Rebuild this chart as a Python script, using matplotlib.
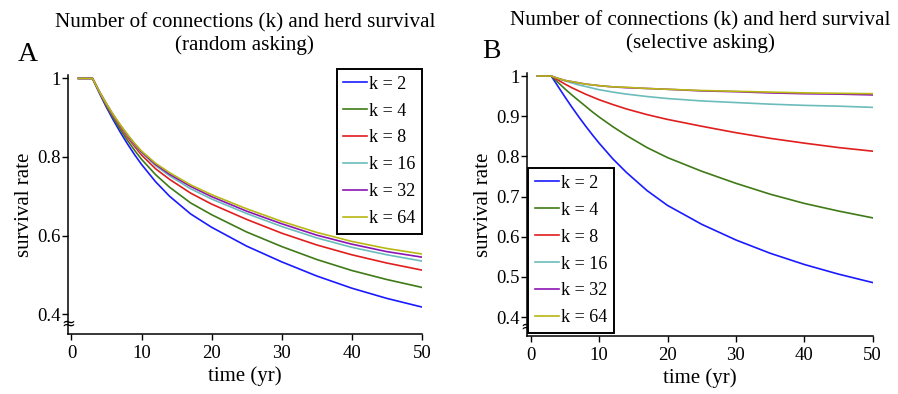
import numpy as np
import matplotlib
matplotlib.use("Agg")
import matplotlib.pyplot as plt
from matplotlib.ticker import FuncFormatter

plt.rcParams['font.family'] = ['Liberation Serif', 'DejaVu Serif']

years = [1, 3, 4, 5, 6, 7, 8, 9, 10, 12, 14, 17, 20, 25, 30, 35, 40, 45, 50]

k_labels = ["k = 2", "k = 4", "k = 8", "k = 16", "k = 32", "k = 64"]
k_colors = ["#1a1aff", "#3f7a17", "#e01e1e", "#6cbcbc", "#8c14b4", "#b8b812"]

# panel A: random asking
random_k2 = [1, 1, 0.962, 0.926, 0.893, 0.862, 0.833, 0.806, 0.781, 0.737, 0.700, 0.655, 0.621, 0.573, 0.533, 0.497, 0.466, 0.440, 0.418]
random_k4 = [1, 1, 0.963, 0.929, 0.898, 0.869, 0.842, 0.817, 0.794, 0.755, 0.723, 0.683, 0.653, 0.609, 0.572, 0.539, 0.511, 0.488, 0.468]
random_k8 = [1, 1, 0.965, 0.932, 0.903, 0.876, 0.850, 0.827, 0.805, 0.770, 0.743, 0.708, 0.680, 0.641, 0.606, 0.576, 0.551, 0.530, 0.512]
random_k16 = [1, 1, 0.965, 0.934, 0.905, 0.879, 0.854, 0.831, 0.811, 0.778, 0.752, 0.719, 0.693, 0.656, 0.623, 0.594, 0.570, 0.551, 0.535]
random_k32 = [1, 1, 0.966, 0.935, 0.906, 0.880, 0.856, 0.833, 0.813, 0.781, 0.756, 0.725, 0.699, 0.662, 0.630, 0.601, 0.578, 0.559, 0.545]
random_k64 = [1, 1, 0.966, 0.935, 0.907, 0.881, 0.857, 0.835, 0.815, 0.784, 0.760, 0.729, 0.704, 0.668, 0.636, 0.608, 0.585, 0.567, 0.553]

# panel B: selective asking
select_k2 = [1, 1, 0.974, 0.948, 0.923, 0.899, 0.876, 0.854, 0.833, 0.794, 0.760, 0.715, 0.678, 0.631, 0.592, 0.559, 0.531, 0.507, 0.486]
select_k4 = [1, 1, 0.984, 0.968, 0.953, 0.939, 0.925, 0.911, 0.898, 0.874, 0.852, 0.822, 0.797, 0.763, 0.733, 0.706, 0.683, 0.664, 0.647]
select_k8 = [1, 1, 0.990, 0.980, 0.971, 0.963, 0.955, 0.948, 0.941, 0.929, 0.918, 0.904, 0.892, 0.875, 0.859, 0.845, 0.833, 0.822, 0.813]
select_k16 = [1, 1, 0.994, 0.988, 0.983, 0.978, 0.974, 0.970, 0.966, 0.960, 0.955, 0.949, 0.944, 0.938, 0.934, 0.930, 0.927, 0.925, 0.922]
select_k32 = [1, 1, 0.994, 0.989, 0.986, 0.983, 0.980, 0.978, 0.976, 0.973, 0.971, 0.969, 0.967, 0.963, 0.961, 0.958, 0.956, 0.955, 0.953]
select_k64 = [1, 1, 0.994, 0.989, 0.986, 0.983, 0.980, 0.978, 0.976, 0.973, 0.972, 0.969, 0.967, 0.964, 0.962, 0.960, 0.958, 0.957, 0.956]

random_series = [random_k2, random_k4, random_k8, random_k16, random_k32, random_k64]
select_series = [select_k2, select_k4, select_k8, select_k16, select_k32, select_k64]

fig = plt.figure(figsize=(8.98, 3.94), dpi=100)
axA = fig.add_axes([0.0757, 0.152, 0.394, 0.657])
axB = fig.add_axes([0.5872, 0.1472, 0.3846, 0.668])

fmt = FuncFormatter(lambda v, p: "%g" % round(v, 2))


def style_axis(ax, ylo, yticks, title, letter, letter_xy):
    ax.set_xlim(-0.5, 50)
    ax.set_ylim(ylo, 1.008)
    ax.set_xticks([0, 10, 20, 30, 40, 50])
    ax.set_yticks(yticks)
    ax.yaxis.set_major_formatter(fmt)
    ax.spines['top'].set_visible(False)
    ax.spines['right'].set_visible(False)
    for s in ('left', 'bottom'):
        ax.spines[s].set_linewidth(1.1)
    ax.tick_params(direction='out', length=4, width=1, labelsize=13.5)
    ax.tick_params(axis='x', pad=4)
    ax.tick_params(axis='y', pad=1.5)
    ax.set_xlabel("time (yr)", fontsize=15, labelpad=3)
    ax.set_ylabel("survival rate", fontsize=15, labelpad=2)
    ax.set_title(title, fontsize=15.2, pad=18, linespacing=1.2)
    ax.text(letter_xy[0], letter_xy[1], letter, transform=ax.transAxes, fontsize=20,
            ha='center', va='center')
    # axis break mark
    ax.text(0.0, 0.376, "≈", transform=ax.get_yaxis_transform(), fontsize=12,
            ha='center', va='center', family=['DejaVu Sans'])


def add_legend(ax, loc, anchor):
    leg = ax.legend(loc=loc, bbox_to_anchor=anchor, fontsize=13,
                    frameon=True, fancybox=False, edgecolor='black', framealpha=1,
                    handlelength=1.35, handletextpad=0.1, labelspacing=0.55,
                    borderpad=0.35, borderaxespad=0)
    leg.get_frame().set_linewidth(1.4)


for vals, lab, col in zip(random_series, k_labels, k_colors):
    axA.plot(years, vals, color=col, lw=1.2, label=lab)
for vals, lab, col in zip(select_series, k_labels, k_colors):
    axB.plot(years, vals, color=col, lw=1.2, label=lab)

style_axis(axA, 0.349, [0.4, 0.6, 0.8, 1.0],
           "Number of connections (k) and herd survival\n(random asking)", "A", (-0.113, 1.081))
style_axis(axB, 0.353, [0.4, 0.5, 0.6, 0.7, 0.8, 0.9, 1.0],
           "Number of connections (k) and herd survival\n(selective asking)", "B", (-0.103, 1.08))

add_legend(axA, 'upper right', (1.0, 1.023))
add_legend(axB, 'lower left', (0.003, 0.0125))

fig.savefig("out.png", dpi=100)
